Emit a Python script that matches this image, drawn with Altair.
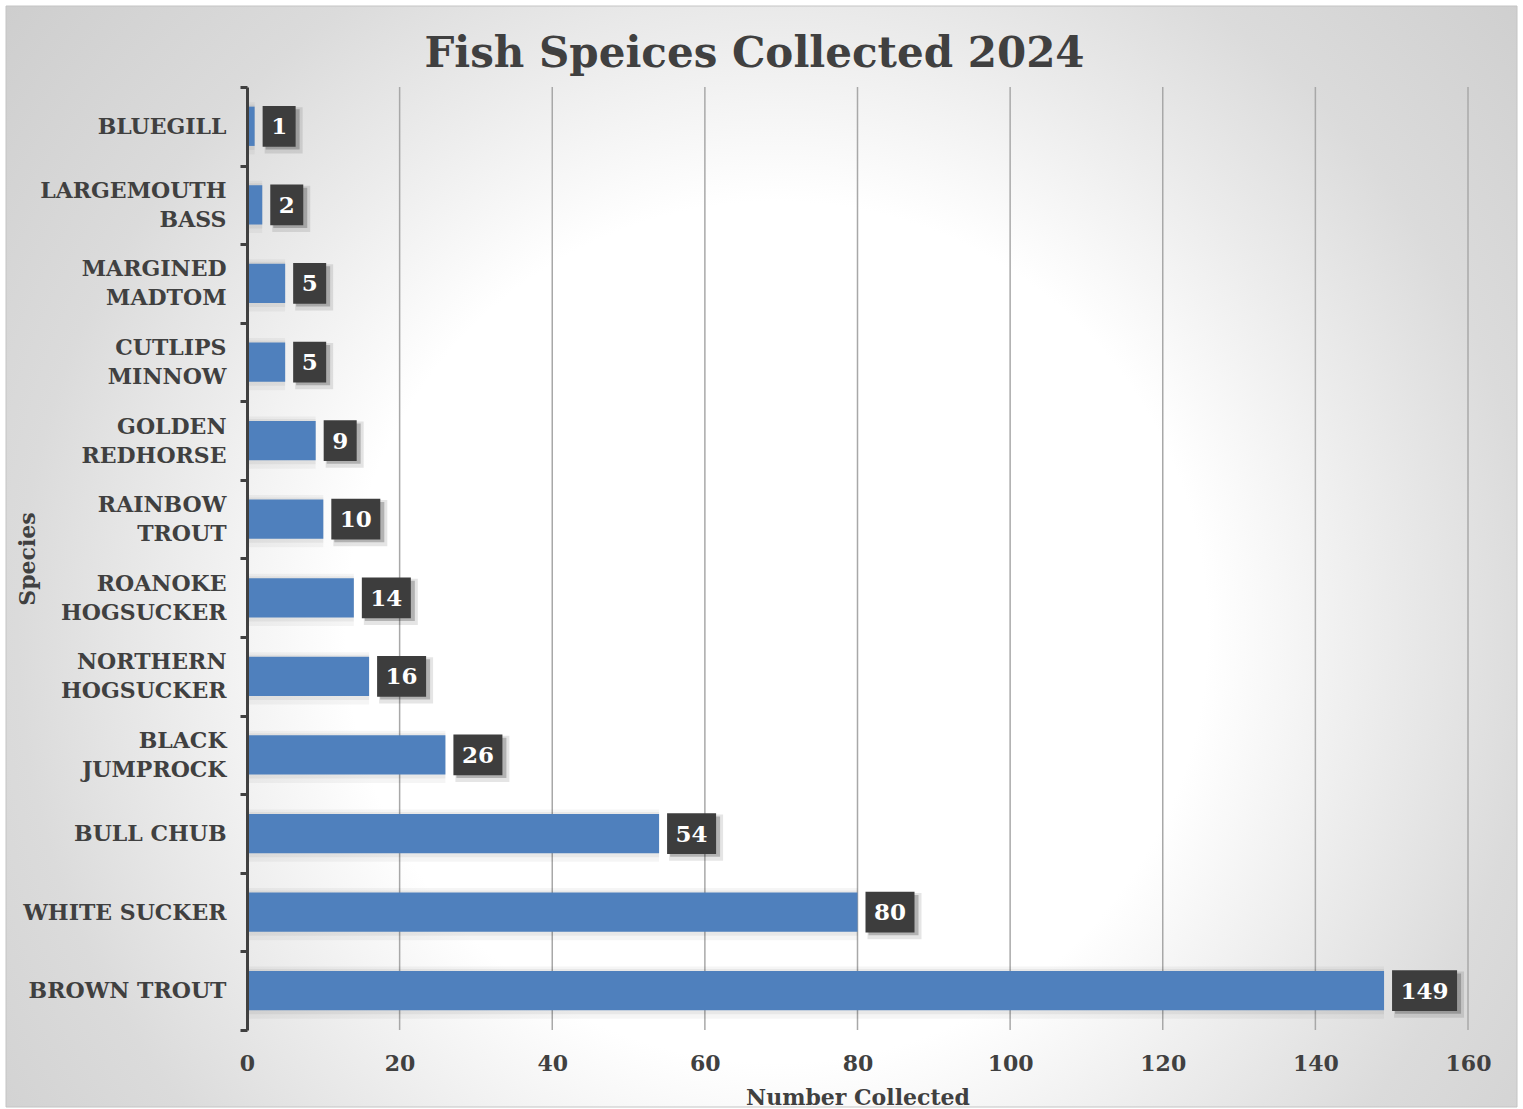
import altair as alt
import pandas as pd

# ---------------- data ----------------
species = [
    "BLUEGILL", "LARGEMOUTH|BASS", "MARGINED|MADTOM", "CUTLIPS|MINNOW",
    "GOLDEN|REDHORSE", "RAINBOW|TROUT", "ROANOKE|HOGSUCKER",
    "NORTHERN|HOGSUCKER", "BLACK|JUMPROCK", "BULL CHUB", "WHITE SUCKER",
    "BROWN TROUT",
]
counts = [1, 2, 5, 5, 9, 10, 14, 16, 26, 54, 80, 149]
x_ticks = [0, 20, 40, 60, 80, 100, 120, 140, 160]

TITLE = "Fish Speices Collected 2024"
X_TITLE = "Number Collected"
Y_TITLE = "Species"

# ---------------- layout / style ----------------
FONT = "DejaVu Serif"
TXT = "#404040"
W, H = 1221, 943
XMAX = 160
PXU = W / XMAX
STEP = H / len(species)
BAR_H = STEP * 0.5
LABEL_SIZE = 22
LINE_H = 29
NBSP_W = 0.348 * LABEL_SIZE


def est_em(s):
    w = 0.0
    for c in s:
        if c == "I":
            w += 0.42
        elif c == "M":
            w += 1.02
        elif c == "W":
            w += 1.1
        elif c == " ":
            w += 0.35
        else:
            w += 0.8
    return w


def centre_lines(label):
    """Two-line labels: pad the shorter line so the lines look centred on each other."""
    lines = label.split("|")
    if len(lines) == 1:
        return label
    longest = max(est_em(l) for l in lines)
    out = []
    for l in lines:
        n = round((longest - est_em(l)) * LABEL_SIZE / 2 / NBSP_W)
        out.append(l + "\u00a0" * n)
    return "|".join(out)


disp = [centre_lines(s) for s in species]
df = pd.DataFrame({"species": disp, "count": counts})
order = disp

xscale = alt.Scale(domain=[0, XMAX], nice=False, zero=True)
yscale = alt.Scale(paddingInner=0, paddingOuter=0)

y_axis = alt.Axis(
    title=Y_TITLE, tickBand="extent", domainColor=TXT, domainWidth=3,
    tickColor=TXT, tickWidth=3, tickSize=7, labelFont=FONT,
    labelFontSize=LABEL_SIZE, labelFontWeight="bold", labelColor=TXT,
    labelPadding=14, labelLineHeight=LINE_H, labelLimit=400, labelOverlap=False,
    labelExpr="split(datum.label, '|')",
    labelOffset={"condition": {"test": "indexof(datum.label, '|') >= 0",
                               "value": -LINE_H / 2}, "value": 0},
    grid=False, zindex=2,
    titleFont=FONT, titleFontSize=22, titleFontWeight="bold", titleColor=TXT,
    titleX=-220, titleY=H / 2, titleAngle=270, titleAlign="center",
    titleBaseline="middle",
)
x_axis = alt.Axis(
    title=X_TITLE, values=x_ticks, grid=False, domain=False, ticks=False,
    labelFont=FONT, labelFontSize=LABEL_SIZE, labelFontWeight="bold",
    labelColor=TXT, labelPadding=23, labelFlush=False, zindex=2,
    titleFont=FONT, titleFontSize=22, titleFontWeight="bold", titleColor=TXT,
    titleY=74, titleBaseline="alphabetic",
)

y_plain = alt.Y("species:N", sort=order, scale=yscale)

base = alt.Chart(df)

# first layer carries the axes (invisible bars)
axes_layer = base.mark_bar(opacity=0, size=BAR_H).encode(
    x=alt.X("count:Q", scale=xscale, axis=x_axis),
    y=alt.Y("species:N", sort=order, scale=yscale, axis=y_axis),
)

# background with radial gradient
bg = alt.Chart(pd.DataFrame({"a": [0]})).mark_rect(
    fill={
        "gradient": "radial",
        "x1": 0.51, "y1": 0.55, "r1": 0,
        "x2": 0.51, "y2": 0.55, "r2": 0.75,
        "stops": [
            {"offset": 0, "color": "#ffffff"},
            {"offset": 0.38, "color": "#ffffff"},
            {"offset": 0.53, "color": "#ececec"},
            {"offset": 0.67, "color": "#dbdbdb"},
            {"offset": 1, "color": "#c6c6c6"},
        ],
    },
    stroke="#c4c4c4", strokeWidth=1,
).encode(
    x=alt.value(-241), x2=alt.value(1270), y=alt.value(-81), y2=alt.value(1020)
)

grid = alt.Chart(pd.DataFrame({"tick": x_ticks[1:]})).mark_rule(
    color="#a8a8a8", strokeWidth=1.5
).encode(
    x=alt.X("tick:Q", scale=xscale),
    y=alt.value(0), y2=alt.value(H),
)

bar_shadow1 = base.mark_bar(color="#000000", opacity=0.04, size=BAR_H + 13, x2Offset=6, yOffset=2).encode(
    x=alt.X("count:Q", scale=xscale), y=y_plain
)
bar_shadow2 = base.mark_bar(color="#000000", opacity=0.05, size=BAR_H + 6, x2Offset=3, yOffset=1).encode(
    x=alt.X("count:Q", scale=xscale), y=y_plain
)
bars = base.mark_bar(color="#4f80bd", size=BAR_H).encode(
    x=alt.X("count:Q", scale=xscale), y=y_plain
)

boxed = base.transform_calculate(
    w="17 + 16 * length(toString(datum.count))"
).transform_calculate(
    bx0=f"datum.count + 8 / {PXU}",
    bx1=f"datum.count + (8 + datum.w) / {PXU}",
    tx=f"datum.count + (8 + datum.w / 2) / {PXU}",
)

box_shadow1 = boxed.mark_bar(color="#000000", opacity=0.10, size=BAR_H + 7, xOffset=2, x2Offset=7, yOffset=4).encode(
    x=alt.X("bx0:Q", scale=xscale), x2="bx1:Q", y=y_plain
)
box_shadow2 = boxed.mark_bar(color="#000000", opacity=0.22, size=BAR_H + 1, xOffset=3, x2Offset=4, yOffset=3).encode(
    x=alt.X("bx0:Q", scale=xscale), x2="bx1:Q", y=y_plain
)
boxes = boxed.mark_bar(color="#3d3d3d", size=BAR_H + 1.5).encode(
    x=alt.X("bx0:Q", scale=xscale), x2="bx1:Q", y=y_plain
)
texts = boxed.mark_text(
    color="#ffffff", font=FONT, fontWeight="bold", fontSize=23,
    align="center", baseline="middle", dy=1,
).encode(
    x=alt.X("tx:Q", scale=xscale), y=y_plain, text="count:Q"
)

chart = alt.layer(
    axes_layer, bg, grid, bar_shadow1, bar_shadow2, bars,
    box_shadow1, box_shadow2, boxes, texts
).properties(
    width=W, height=H,
    title=alt.Title(
        TITLE, font=FONT, fontSize=42, fontWeight="bold", color=TXT,
        anchor="middle", dx=-103, offset=-103, baseline="alphabetic",
    ),
    autosize=alt.AutoSizeParams(type="none"),
    padding={"left": 247, "top": 87, "right": 55, "bottom": 79},
).configure(background="#ffffff", view=alt.ViewConfig(stroke=None))

chart.save("out.html", embed_options={"renderer": "svg", "actions": False})
